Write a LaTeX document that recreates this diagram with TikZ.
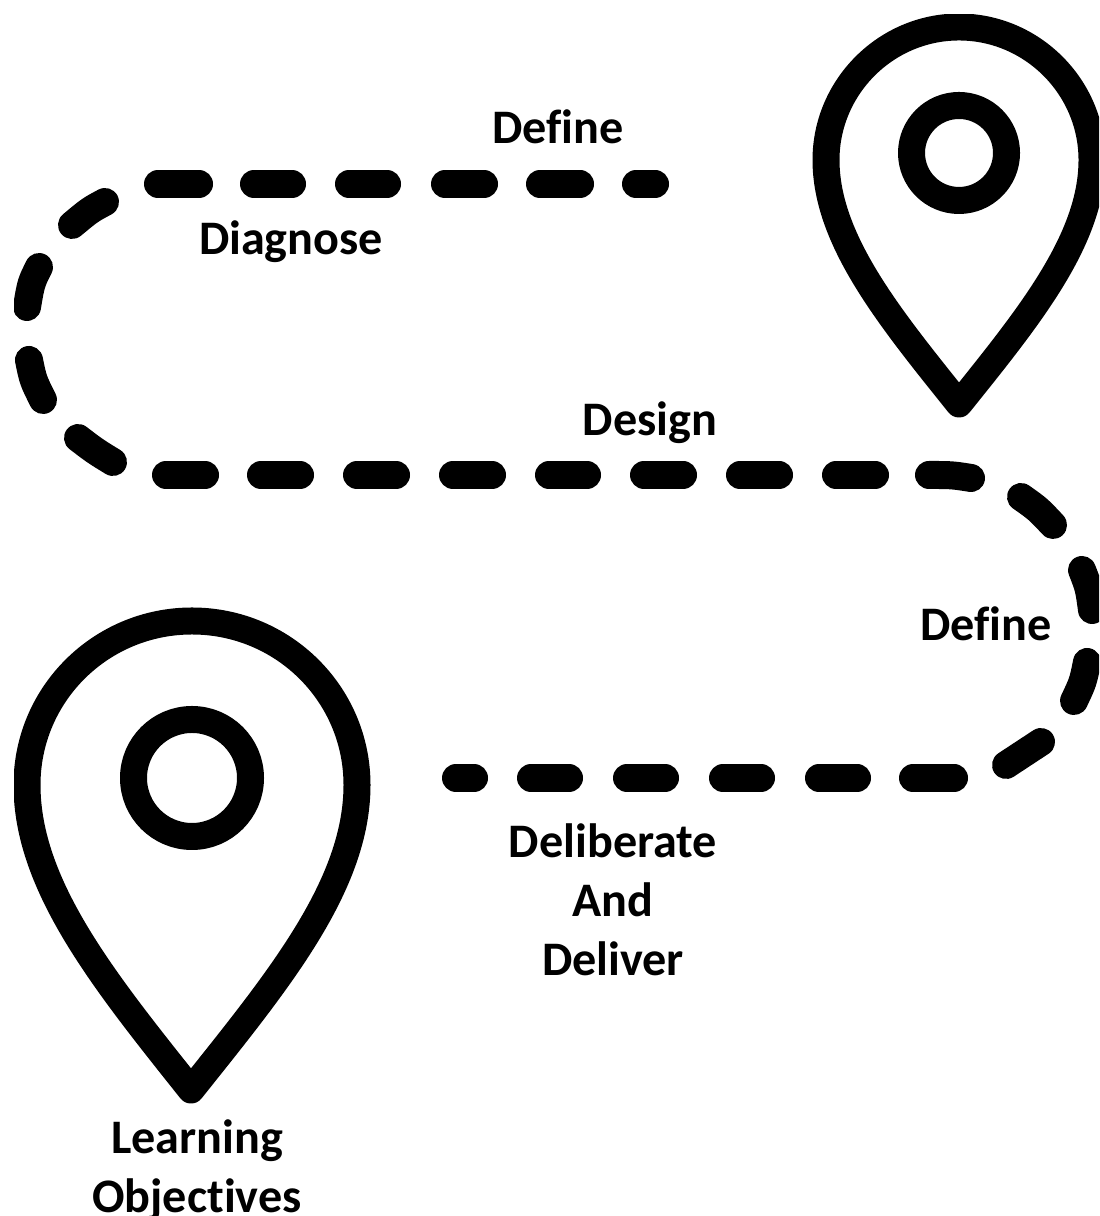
\documentclass[tikz,border=0pt]{standalone}
\usepackage{fontspec}
\setmainfont[Ligatures=NoCommon]{Carlito}
\tikzset{
  trail/.style={line width=0.28cm,line cap=round,line join=round},
  pin/.style={line width=0.27cm,line join=round},
  caption/.style={font=\fontsize{13.7}{16.8}\selectfont\bfseries,inner sep=0pt,align=center}
}
\begin{document}
\begin{tikzpicture}
\useasboundingbox (0,0) rectangle (10.99,12.16);
\begin{scope}
\clip (0.14,0) rectangle (10.99,12.01);

% Drawing pin at the far end
\draw [pin] (9.59,8.12) .. controls (8.90,8.98) and (8.26,9.76) .. (8.26,10.56)
  .. controls (8.26,11.29) and (8.86,11.89) .. (9.59,11.89)
  .. controls (10.32,11.89) and (10.92,11.29) .. (10.92,10.56)
  .. controls (10.92,9.76) and (10.28,8.98) .. (9.59,8.12) -- cycle;%
\draw [pin] (9.59,10.63) circle (0.475);%

% Drawing pin at the start
\draw [pin] (1.91,1.26) .. controls (1.05,2.34) and (0.27,3.30) .. (0.27,4.31)
  .. controls (0.27,5.22) and (1.01,5.95) .. (1.92,5.95)
  .. controls (2.83,5.95) and (3.57,5.22) .. (3.57,4.31)
  .. controls (3.57,3.30) and (2.77,2.34) .. (1.91,1.26) -- cycle;%
\draw [pin] (1.92,4.38) circle (0.585);%

% Drawing top row
\draw [trail] (1.58,10.32) -- (1.99,10.32);%
\draw [trail] (2.54,10.32) -- (2.92,10.32);%
\draw [trail] (3.49,10.32) -- (3.87,10.32);%
\draw [trail] (4.45,10.32) -- (4.84,10.32);%
\draw [trail] (5.40,10.32) -- (5.80,10.32);%
\draw [trail] (6.36,10.32) -- (6.55,10.32);%

% Drawing left bend
\draw [trail] (1.05,10.14) .. controls (0.90,10.06) .. (0.72,9.91);%
\draw [trail] (0.39,9.49) .. controls (0.31,9.33) .. (0.27,9.09);%
\draw [trail] (0.29,8.56) .. controls (0.33,8.36) .. (0.43,8.16);%
\draw [trail] (0.78,7.78) .. controls (0.95,7.65) .. (1.13,7.54);%

% Drawing middle row
\draw [trail] (1.66,7.41) -- (2.05,7.41);%
\draw [trail] (2.61,7.41) -- (3.00,7.41);%
\draw [trail] (3.57,7.41) -- (3.96,7.41);%
\draw [trail] (4.53,7.41) -- (4.92,7.41);%
\draw [trail] (5.49,7.41) -- (5.87,7.41);%
\draw [trail] (6.44,7.41) -- (6.83,7.41);%
\draw [trail] (7.40,7.41) -- (7.79,7.41);%
\draw [trail] (8.36,7.41) -- (8.75,7.41);%

% Drawing right bend
\draw [trail] (9.29,7.41) .. controls (9.52,7.41) .. (9.71,7.38);%
\draw [trail] (10.21,7.19) .. controls (10.38,7.07) .. (10.53,6.91);%
\draw [trail] (10.82,6.46) .. controls (10.89,6.28) .. (10.92,6.06);%
\draw [trail] (10.87,5.54) .. controls (10.83,5.34) .. (10.74,5.15);%
\draw [trail] (10.41,4.74) .. controls (10.24,4.62) .. (10.06,4.51);%

% Drawing bottom row
\draw [trail] (4.56,4.38) -- (4.74,4.38);%
\draw [trail] (5.31,4.38) -- (5.69,4.38);%
\draw [trail] (6.27,4.38) -- (6.65,4.38);%
\draw [trail] (7.23,4.38) -- (7.61,4.38);%
\draw [trail] (8.19,4.38) -- (8.57,4.38);%
\draw [trail] (9.13,4.38) -- (9.54,4.38);%
\end{scope}

% Marking the labels
\node (defineTop) [caption,anchor=base] at (5.58,10.72) {Define};%
\node (diagnose) [caption,anchor=base] at (2.91,9.61) {Diagnose};%
\node (design) [caption,anchor=base] at (6.50,7.80) {Design};%
\node (defineRight) [caption,anchor=base] at (9.86,5.75) {Define};%
\node (deliberate) [caption,anchor=center] at (6.13,3.16) {Deliberate\\And\\Deliver};%
\node (objectives) [caption,anchor=center] at (1.97,0.46) {Learning\\Objectives};%
\end{tikzpicture}
\end{document}
